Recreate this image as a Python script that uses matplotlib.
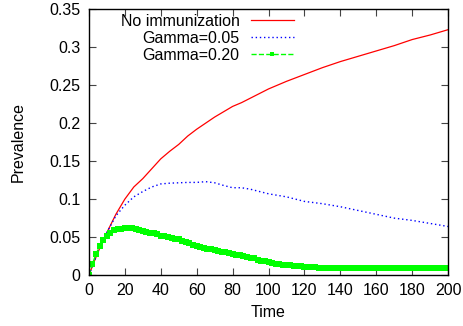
import matplotlib as mpl
mpl.use('Agg')
import matplotlib.pyplot as plt
from matplotlib.ticker import MultipleLocator

plt.rcParams['font.family'] = ['Liberation Sans', 'DejaVu Sans']

# no immunization
t_red = [0, 5, 10, 15, 20, 25, 30, 35, 40, 45, 50, 55, 60, 65, 70, 75, 80, 85, 90, 95,
         100, 110, 120, 130, 140, 150, 160, 170, 180, 190, 200]
p_red = [0, 0.030, 0.056, 0.080, 0.100, 0.116, 0.127, 0.140, 0.153, 0.163, 0.172, 0.183,
         0.192, 0.200, 0.208, 0.215, 0.222, 0.227, 0.233, 0.239,
         0.245, 0.255, 0.264, 0.273, 0.281, 0.288, 0.295, 0.302, 0.310, 0.316, 0.323]

# gamma = 0.05
t_blue = [0, 5, 10, 15, 20, 25, 30, 35, 40, 45, 50, 55, 60, 65, 70, 75, 80, 85, 90, 95,
          100, 110, 120, 130, 140, 150, 160, 170, 180, 190, 200]
p_blue = [0, 0.030, 0.056, 0.078, 0.092, 0.103, 0.110, 0.116, 0.120, 0.121, 0.1215, 0.122,
          0.122, 0.123, 0.1215, 0.118, 0.115, 0.115, 0.113, 0.110,
          0.107, 0.103, 0.097, 0.094, 0.090, 0.085, 0.080, 0.075, 0.072, 0.068, 0.064]

# gamma = 0.20
t_green = list(range(0, 201, 2))
p_green = [0, 0.015, 0.028, 0.038, 0.046, 0.052, 0.056, 0.059, 0.061, 0.061,
           0.062, 0.0625, 0.0625, 0.061, 0.060, 0.058, 0.057, 0.056, 0.055, 0.054,
           0.052, 0.051, 0.050, 0.049, 0.048, 0.047, 0.045, 0.043, 0.042, 0.040,
           0.038, 0.037, 0.036, 0.035, 0.034, 0.033, 0.032, 0.031, 0.030, 0.029,
           0.028, 0.027, 0.026, 0.025, 0.024, 0.023, 0.022, 0.020, 0.019, 0.018,
           0.017, 0.016, 0.015, 0.015, 0.014, 0.0135, 0.013, 0.0125, 0.012, 0.0115,
           0.011, 0.0108, 0.0105, 0.0102, 0.010, 0.0098, 0.0096, 0.0094, 0.0093, 0.0092,
           0.0091, 0.009, 0.009, 0.009, 0.009, 0.009, 0.009, 0.009, 0.009, 0.009,
           0.009, 0.009, 0.009, 0.009, 0.009, 0.009, 0.009, 0.009, 0.009, 0.009,
           0.009, 0.009, 0.009, 0.009, 0.009, 0.009, 0.009, 0.009, 0.009, 0.009,
           0.009]

fig = plt.figure(figsize=(4.63, 3.26), dpi=100)
ax = fig.add_axes([0.192, 0.156, 0.776, 0.816])

ax.plot(t_red, p_red, color='#ff0000', lw=0.9, label='No immunization')
ax.plot(t_blue, p_blue, color='#0000ff', lw=1.0, ls=(0, (1, 2)), label='Gamma=0.05')
ax.plot(t_green, p_green, color='#00ff00', lw=1.0, ls='--', marker='s', markersize=4,
        markeredgewidth=0, label='Gamma=0.20')

ax.set_xlim(0, 200)
ax.set_ylim(0, 0.35)
ax.xaxis.set_major_locator(MultipleLocator(20))
ax.set_yticks([0, 0.05, 0.1, 0.15, 0.2, 0.25, 0.3, 0.35])
ax.set_yticklabels(['0', '0.05', '0.1', '0.15', '0.2', '0.25', '0.3', '0.35'])
ax.tick_params(direction='in', length=5, width=0.8, top=True, right=True,
               labelsize=11.5, pad=6, colors='#444444', labelcolor='black')
for s in ax.spines.values():
    s.set_linewidth(1.0)

ax.set_xlabel('Time', fontsize=11.5, labelpad=5)
ax.set_ylabel('Prevalence', fontsize=11.5, labelpad=17)

leg = ax.legend(loc='upper right', bbox_to_anchor=(0.57, 0.982), frameon=False,
                markerfirst=False, fontsize=11.5, handlelength=2.7, handletextpad=0.7,
                labelspacing=0.12, borderpad=0, borderaxespad=0)
for h in leg.legend_handles:
    h.set_markevery([1])
    h.set_markersize(3)

plt.savefig('out.png', dpi=100)
